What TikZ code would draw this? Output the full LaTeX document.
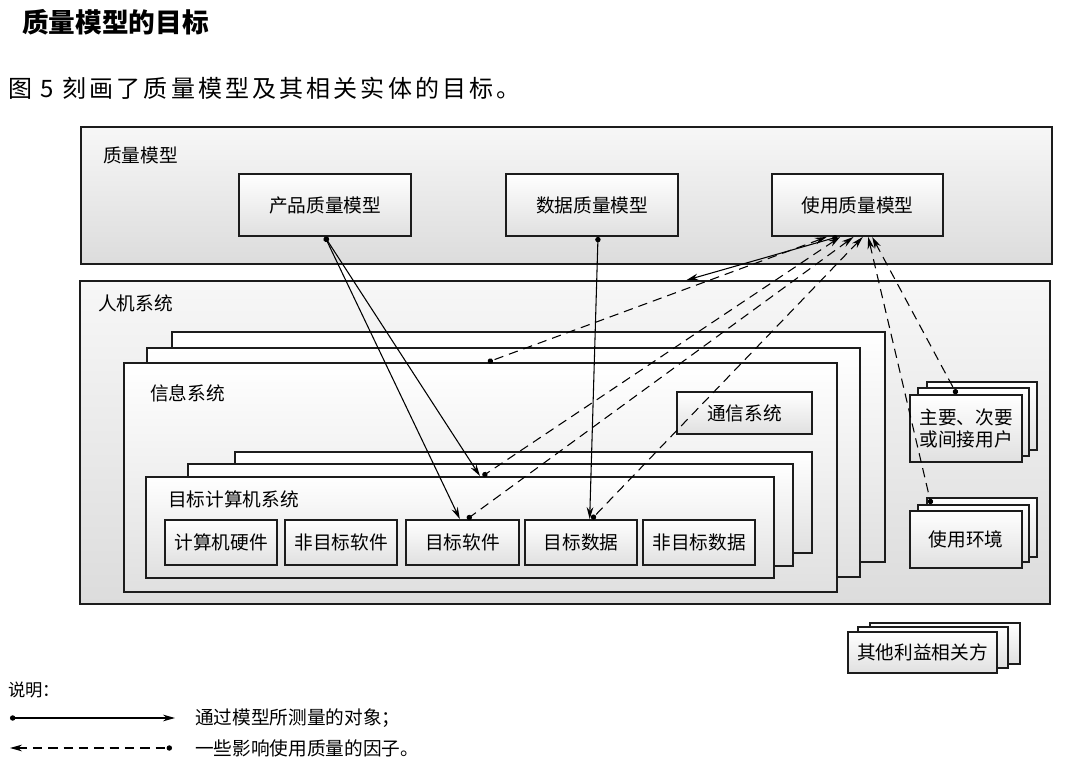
\documentclass[tikz,border=0pt]{standalone}
\usepackage{fontspec}
\setmainfont{Noto Sans CJK SC}
\newfontfamily\capfont[LetterSpace=13]{Noto Sans CJK SC}
\usetikzlibrary{arrows.meta, fit, calc}
\definecolor{paneltop}{RGB}{247,247,247}
\definecolor{panelbot}{RGB}{220,220,220}
\definecolor{boxtop}{RGB}{255,255,255}
\definecolor{boxbot}{RGB}{224,224,224}
\definecolor{edge}{RGB}{28,28,28}

\begin{document}
\begin{tikzpicture}[
    x=0.75pt, y=-0.75pt,
    panel/.style={draw=edge, line width=1.2pt, top color=paneltop, bottom color=panelbot, inner sep=0pt},
    layer/.style={draw=edge, line width=1.4pt, top color=boxtop, bottom color=boxbot, inner sep=0pt},
    boxtxt/.style={font=\fontsize{14}{17}\selectfont, align=center, inner sep=0pt},
    tag/.style={anchor=west, inner sep=0pt, font=\fontsize{14}{17}\selectfont},
    meas/.style={{Circle[length=4pt]}-{Stealth[length=9pt, width=5pt]}, line width=0.8pt},
    infl/.style={{Stealth[length=9pt, width=5pt]}-{Circle[length=4pt]}, dashed, dash pattern=on 7pt off 4.5pt, line width=0.8pt},
  ]
  \useasboundingbox[fill=white] (0,0) rectangle (1082,762);

  \node[anchor=west, inner sep=0pt, font=\fontsize{20}{24}\selectfont\bfseries] (title) at (22,22) {质量模型的目标};
  \node[anchor=west, inner sep=0pt, font=\fontsize{18}{22}\capfont] (caption) at (8,88) {图 5 刻画了质量模型及其相关实体的目标。};

  \node[panel, fit={(81,127) (1052,264)}] (qm) {};
  \node[tag] (qmtag) at (103,155) {质量模型};
  \node[layer, fit={(239,174) (411,236)}, label={[boxtxt]center:产品质量模型}] (pqm) {};
  \node[layer, fit={(506,174) (678,236)}, label={[boxtxt]center:数据质量模型}] (dqm) {};
  \node[layer, fit={(772,174) (943,236)}, label={[boxtxt]center:使用质量模型}] (uqm) {};

  \node[panel, fit={(80,281) (1050,604)}] (hms) {};
  \node[tag] (hmstag) at (98,303) {人机系统};

  \node[layer, fit={(172,332) (885,562)}] (is3) {};
  \node[layer, fit={(147,348) (860,577)}] (is2) {};
  \node[layer, fit={(124,363) (837,592)}] (is1) {};
  \node[tag] (istag) at (150,393) {信息系统};
  \node[layer, fit={(677,392) (812,434)}, label={[boxtxt]center:通信系统}] (comm) {};

  \node[layer, fit={(235,452) (812,553)}] (tcs3) {};
  \node[layer, fit={(188,464) (793,566)}] (tcs2) {};
  \node[layer, fit={(146,477) (774,578)}] (tcs1) {};
  \node[tag] (tcstag) at (168,499) {目标计算机系统};
  \node[layer, fit={(165,520) (277,565)}, label={[boxtxt]center:计算机硬件}] (hw) {};
  \node[layer, fit={(285,520) (397,565)}, label={[boxtxt]center:非目标软件}] (nsw) {};
  \node[layer, fit={(406,520) (519,565)}, label={[boxtxt]center:目标软件}] (tsw) {};
  \node[layer, fit={(525,520) (637,565)}, label={[boxtxt]center:目标数据}] (tdat) {};
  \node[layer, fit={(643,520) (755,565)}, label={[boxtxt]center:非目标数据}] (ndat) {};

  \node[layer, fit={(927,382) (1037,450)}] (users3) {};
  \node[layer, fit={(918,388) (1029,456)}] (users2) {};
  \node[layer, fit={(910,395) (1022,462)}, label={[boxtxt]center:主要、次要\\或间接用户}] (users1) {};

  \node[layer, fit={(927,498) (1037,557)}] (env3) {};
  \node[layer, fit={(918,505) (1029,562)}] (env2) {};
  \node[layer, fit={(910,511) (1022,568)}, label={[boxtxt]center:使用环境}] (env1) {};

  \node[layer, fit={(870,623) (1020,664)}] (oth3) {};
  \node[layer, fit={(858,627) (1008,668)}] (oth2) {};
  \node[layer, fit={(848,632) (997,673)}, label={[boxtxt]center:其他利益相关方}] (oth1) {};

  \draw[meas] (pqm.south) -- ([xshift=15pt]tcs1.north);
  \draw[meas] (pqm.south) -- ([xshift=-2pt]tsw.north);
  \draw[meas] ([xshift=4.5pt]dqm.south) -- ([xshift=6.5pt]tdat.north);
  \draw[meas] ([xshift=-15pt]uqm.south) -- ([xshift=91pt]hms.north);

  \draw[infl] ([xshift=-23pt]uqm.south) -- ([xshift=5.5pt]is1.north);
  \draw[infl] ([xshift=-13pt]uqm.south) -- ([xshift=17pt]tcs1.north);
  \draw[infl] ([xshift=-3pt]uqm.south) -- ([xshift=3.5pt]tsw.north);
  \draw[infl] ([xshift=4pt]uqm.south) -- ([xshift=8pt]tdat.north);
  \draw[infl] ([xshift=8pt]uqm.south) -- ([xshift=10.5pt]env2.north west);
  \draw[infl] ([xshift=11pt]uqm.south) -- ([xshift=-7pt]users1.north);

  \node[anchor=west, inner sep=0pt, font=\fontsize{13}{16}\selectfont] (note) at (8,690) {说明：};
  \coordinate (m0) at (10,718);
  \coordinate (m1) at (175,718);
  \draw[meas] (m0) -- (m1);
  \node[tag] (measlbl) at (195,718) {通过模型所测量的对象；};
  \coordinate (f0) at (10,748);
  \coordinate (f1) at (172,748);
  \draw[infl] (f0) -- (f1);
  \node[tag] (infllbl) at (195,748) {一些影响使用质量的因子。};
\end{tikzpicture}
\end{document}
